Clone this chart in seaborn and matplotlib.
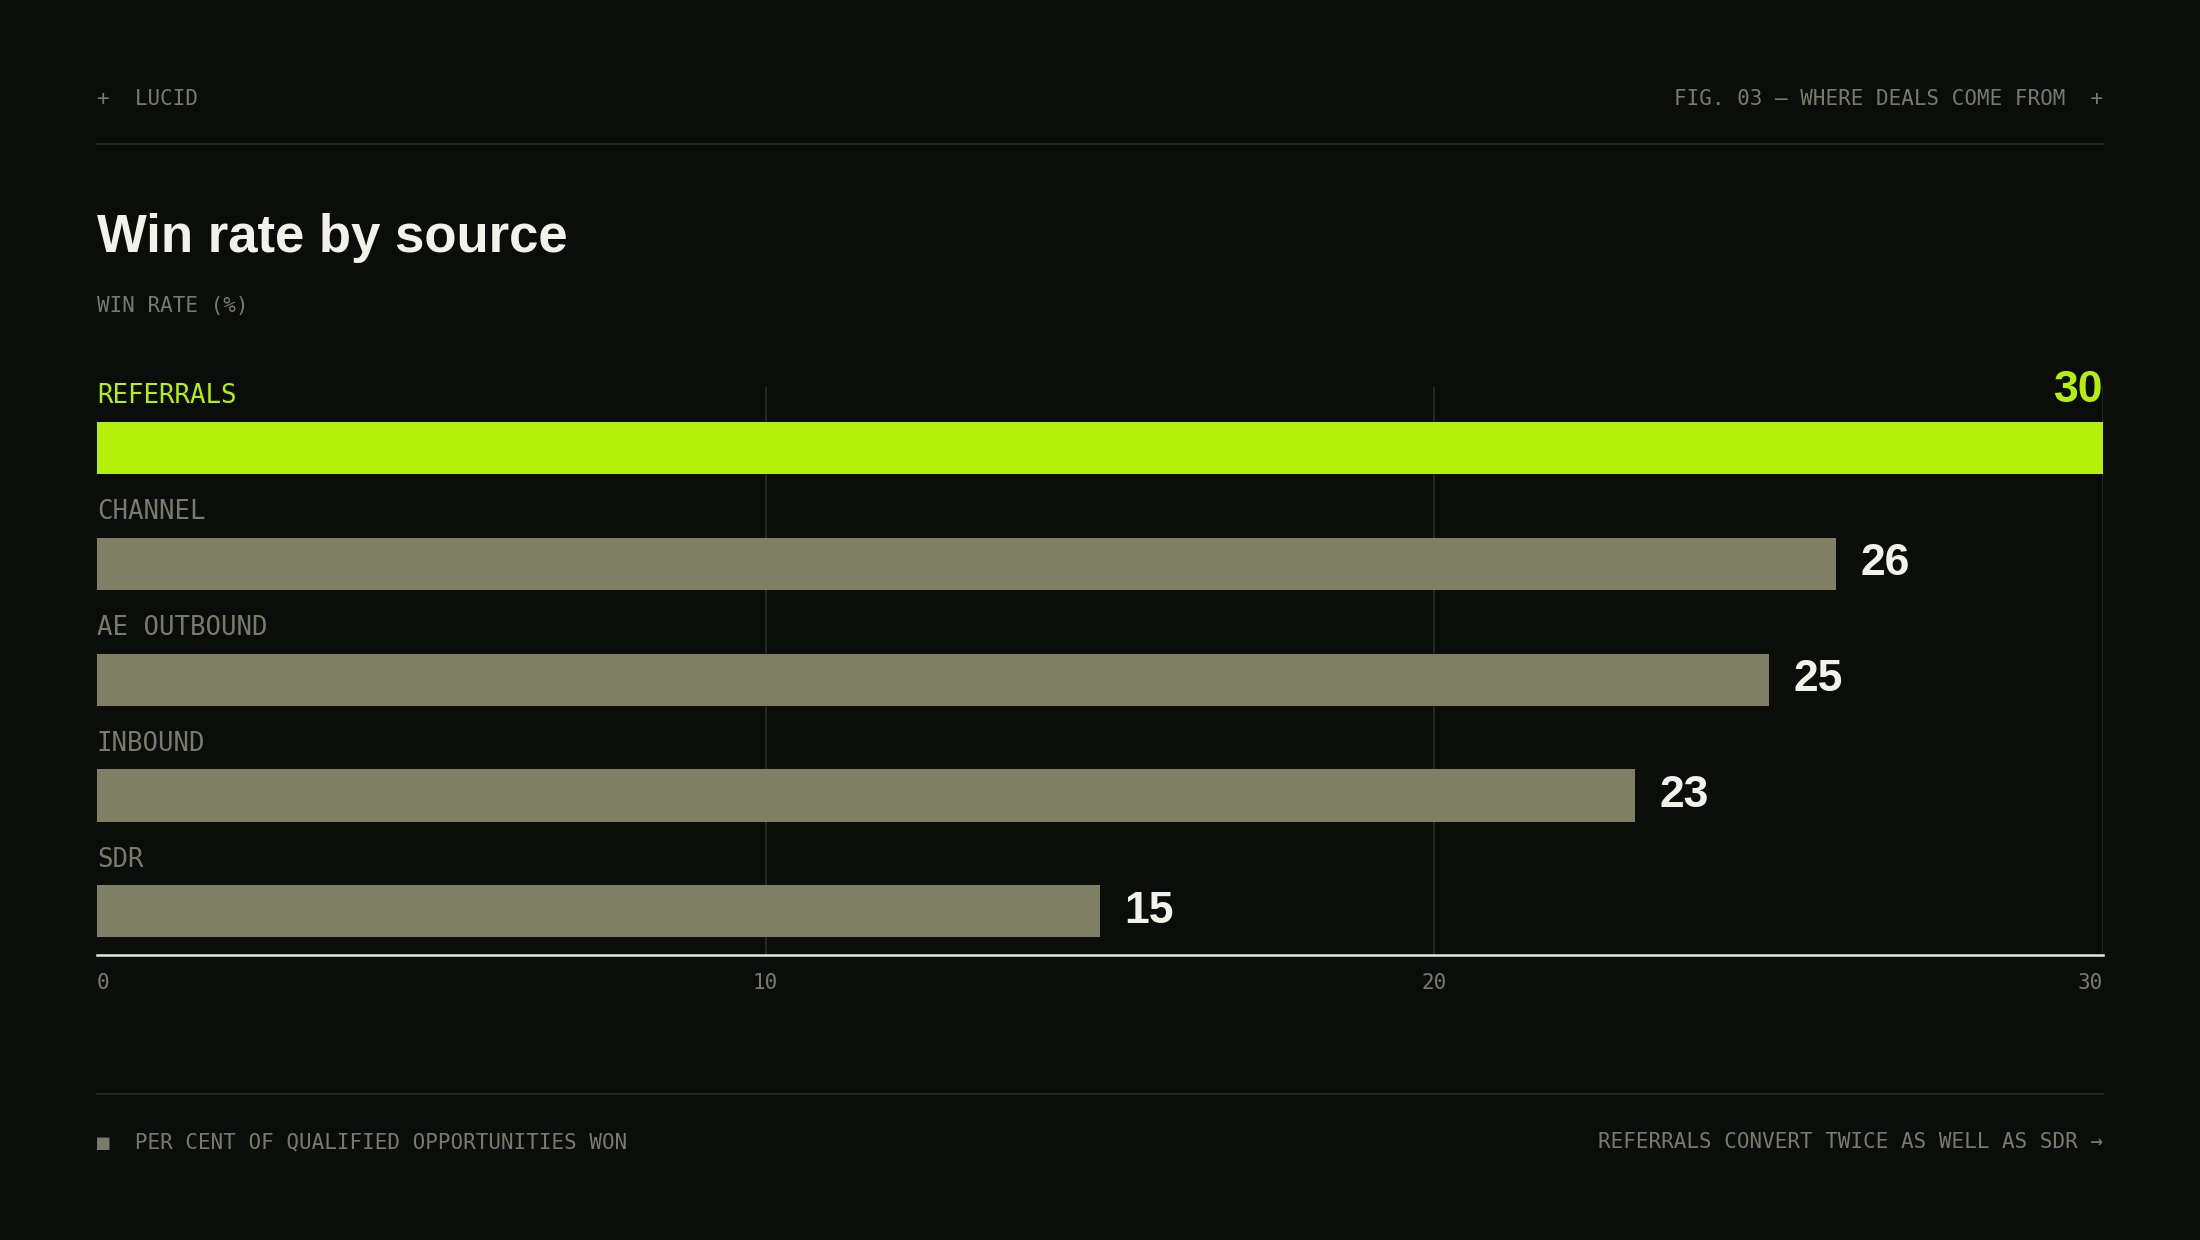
import matplotlib.pyplot as plt
import seaborn as sns
import pandas as pd

# data
sources = ['REFERRALS', 'CHANNEL', 'AE OUTBOUND', 'INBOUND', 'SDR']
win_rate = [30, 26, 25, 23, 15]
ticks = [0, 10, 20, 30]

BG = '#0b0d0b'
LIME = '#b5f00a'
BAR = '#7f7f63'
MUTED = '#7a7a6c'
GRID = '#2a2d2a'
MONO = 'DejaVu Sans Mono'
SANS = 'Liberation Sans'

sns.set_theme(style='dark')
plt.rcParams['font.family'] = ['DejaVu Sans']

df = pd.DataFrame({'source': sources, 'rate': win_rate})
colors = {s: (LIME if i == 0 else BAR) for i, s in enumerate(sources)}

fig = plt.figure(figsize=(22, 12.4), dpi=100, facecolor=BG)
ax = fig.add_axes([0.044, 0.2296, 0.912, 0.4594], facecolor=BG)

sns.barplot(data=df, y='source', x='rate', hue='source', palette=colors,
            orient='h', width=0.45, ax=ax, legend=False, saturation=1, linewidth=0)

ax.set_xlim(0, 30)
ax.set_ylim(4.38, -0.54)
ax.set_xticks(ticks)
ax.set_xticklabels([])
ax.set_yticks([])
ax.set_xlabel('')
ax.set_ylabel('')
ax.grid(False)
for t in ticks[1:]:
    ax.axvline(t, color=GRID, lw=1.2, zorder=0)
for s in ['top', 'left', 'right']:
    ax.spines[s].set_visible(False)
ax.spines['bottom'].set_color('#e8e8e0')
ax.spines['bottom'].set_linewidth(1.8)
ax.tick_params(axis='x', length=0)

for i, t in enumerate(ticks):
    ha = 'left' if i == 0 else ('right' if t == 30 else 'center')
    ax.text(t, 4.62, str(t), ha=ha, va='center', fontsize=15, color=MUTED, family=MONO)

for i, (s, v) in enumerate(zip(sources, win_rate)):
    col = LIME if i == 0 else MUTED
    ax.text(0, i - 0.335, s, ha='left', va='bottom', fontsize=18.5, color=col, family=MONO)
    if i == 0:
        ax.text(v, i - 0.32, str(v), ha='right', va='bottom', fontsize=32,
                fontweight='bold', color=LIME, family=SANS)
    else:
        ax.text(v + 0.37, i, str(v), ha='left', va='center', fontsize=32,
                fontweight='bold', color='#f2f2ea', family=SANS)

# header / footer
fig.text(0.044, 0.92, '+  LUCID', fontsize=15, color=MUTED, family=MONO, va='center')
fig.text(0.956, 0.92, 'FIG. 03 — WHERE DEALS COME FROM  +', fontsize=15, color=MUTED,
         family=MONO, va='center', ha='right')
fig.add_artist(plt.Line2D([0.044, 0.956], [0.884, 0.884], color=GRID, lw=1.2))
fig.text(0.044, 0.808, 'Win rate by source', fontsize=38, fontweight='bold',
         color='#f2f2ea', family=SANS, va='center')
fig.text(0.044, 0.753, 'WIN RATE (%)', fontsize=15, color=MUTED, family=MONO, va='center')
fig.add_artist(plt.Line2D([0.044, 0.956], [0.117, 0.117][:1] * 0 + [0.1175, 0.1175], color=GRID, lw=1.2))
fig.text(0.044, 0.079, '■  PER CENT OF QUALIFIED OPPORTUNITIES WON', fontsize=15,
         color=MUTED, family=MONO, va='center')
fig.text(0.956, 0.079, 'REFERRALS CONVERT TWICE AS WELL AS SDR →', fontsize=15,
         color=MUTED, family=MONO, va='center', ha='right')

fig.savefig('out.png', dpi=100, facecolor=BG)
